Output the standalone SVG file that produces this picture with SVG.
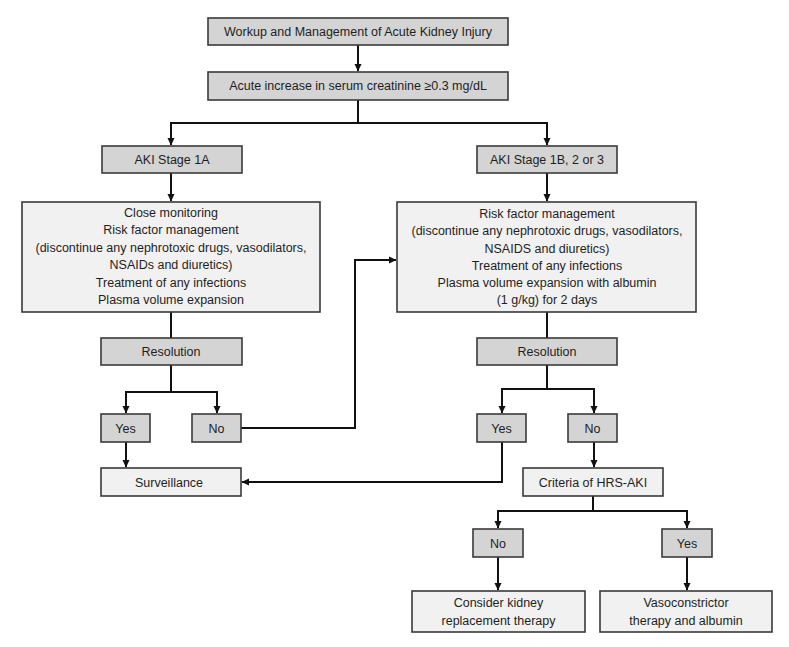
<svg xmlns="http://www.w3.org/2000/svg" width="789" height="647" viewBox="0 0 789 647">
<defs>
<marker id="ah" markerWidth="8" markerHeight="8" refX="7" refY="4" orient="auto" markerUnits="userSpaceOnUse">
<path d="M0,0.5 L7.5,4 L0,7.5 Z" fill="#111"/>
</marker>
<style>
.d{fill:#d4d4d4;stroke:#3a3a3a;stroke-width:1.6}
.l{fill:#f1f1f1;stroke:#3a3a3a;stroke-width:1.6}
text{font-family:"Liberation Sans",Arial,sans-serif;font-size:12.5px;fill:#1e1e1e;text-anchor:middle}
.c{fill:none;stroke:#111;stroke-width:2}
</style>
</defs>
<rect width="789" height="647" fill="#fff"/>
<g id="connectors">
<path class="c" d="M358,45 V71" marker-end="url(#ah)"/>
<path class="c" d="M358,100 V123 M171,123 H547"/>
<path class="c" d="M171,122 V145" marker-end="url(#ah)"/>
<path class="c" d="M547,122 V145" marker-end="url(#ah)"/>
<path class="c" d="M171,173 V201" marker-end="url(#ah)"/>
<path class="c" d="M547,173 V201" marker-end="url(#ah)"/>
<path class="c" d="M171,312 V338"/>
<path class="c" d="M547,312 V338"/>
<path class="c" d="M171,365 V392 M126,392 H217"/>
<path class="c" d="M126,391 V413" marker-end="url(#ah)"/>
<path class="c" d="M217,391 V413" marker-end="url(#ah)"/>
<path class="c" d="M241,428 H355 V260 H396" marker-end="url(#ah)"/>
<path class="c" d="M126,442 V467" marker-end="url(#ah)"/>
<path class="c" d="M547,365 V389 M502,389 H594"/>
<path class="c" d="M502,388 V413" marker-end="url(#ah)"/>
<path class="c" d="M594,388 V413" marker-end="url(#ah)"/>
<path class="c" d="M502,442 V482 H242" marker-end="url(#ah)"/>
<path class="c" d="M594,442 V467" marker-end="url(#ah)"/>
<path class="c" d="M593,496 V511 M498,511 H687"/>
<path class="c" d="M498,510 V528" marker-end="url(#ah)"/>
<path class="c" d="M687,510 V528" marker-end="url(#ah)"/>
<path class="c" d="M498,557 V590" marker-end="url(#ah)"/>
<path class="c" d="M687,557 V590" marker-end="url(#ah)"/>
</g>
<g id="title"><rect class="d" x="208" y="18" width="300" height="27"/><text x="358" y="36">Workup and Management of Acute Kidney Injury</text></g>
<g id="creatinine"><rect class="d" x="208" y="72" width="300" height="28"/><text x="358" y="90">Acute increase in serum creatinine ≥0.3 mg/dL</text></g>
<g id="stage1a"><rect class="d" x="102" y="146" width="140" height="27"/><text x="172" y="164">AKI Stage 1A</text></g>
<g id="stage1b"><rect class="d" x="477" y="146" width="140" height="27"/><text x="547" y="164">AKI Stage 1B, 2 or 3</text></g>
<g id="mgmt1a"><rect class="l" x="22" y="202" width="298" height="110"/>
<text x="171" y="217">Close monitoring</text>
<text x="171" y="234">Risk factor management</text>
<text x="171" y="251.5">(discontinue any nephrotoxic drugs, vasodilators,</text>
<text x="171" y="269">NSAIDs and diuretics)</text>
<text x="171" y="286.5">Treatment of any infections</text>
<text x="171" y="304">Plasma volume expansion</text></g>
<g id="mgmt1b"><rect class="l" x="397" y="202" width="299" height="110"/>
<text x="547" y="217.5">Risk factor management</text>
<text x="547" y="235">(discontinue any nephrotoxic drugs, vasodilators,</text>
<text x="547" y="252.5">NSAIDS and diuretics)</text>
<text x="547" y="270">Treatment of any infections</text>
<text x="547" y="287">Plasma volume expansion with albumin</text>
<text x="547" y="304">(1 g/kg) for 2 days</text></g>
<g id="res1"><rect class="d" x="101" y="338" width="141" height="27"/><text x="171" y="356">Resolution</text></g>
<g id="res2"><rect class="d" x="477" y="338" width="140" height="27"/><text x="547" y="356">Resolution</text></g>
<g id="yes1"><rect class="d" x="101" y="414" width="49" height="28"/><text x="125.5" y="432.5">Yes</text></g>
<g id="no1"><rect class="d" x="192" y="414" width="49" height="28"/><text x="216.5" y="432.5">No</text></g>
<g id="yes2"><rect class="d" x="477" y="414" width="49" height="28"/><text x="501.5" y="432.5">Yes</text></g>
<g id="no2"><rect class="d" x="568" y="414" width="49" height="28"/><text x="592.5" y="432.5">No</text></g>
<g id="surveillance"><rect class="l" x="101" y="468" width="140" height="28"/><text x="169" y="486.5">Surveillance</text></g>
<g id="hrs"><rect class="l" x="523" y="468" width="140" height="28"/><text x="593" y="486.5">Criteria of HRS-AKI</text></g>
<g id="no3"><rect class="d" x="473" y="529" width="50" height="28"/><text x="498" y="547.5">No</text></g>
<g id="yes3"><rect class="d" x="662" y="529" width="50" height="28"/><text x="687" y="547.5">Yes</text></g>
<g id="krt"><rect class="l" x="412" y="591" width="173" height="41"/><text x="498.5" y="607">Consider kidney</text><text x="498.5" y="625">replacement therapy</text></g>
<g id="vaso"><rect class="l" x="600" y="591" width="172" height="41"/><text x="686" y="607">Vasoconstrictor</text><text x="686" y="625">therapy and albumin</text></g>
</svg>
